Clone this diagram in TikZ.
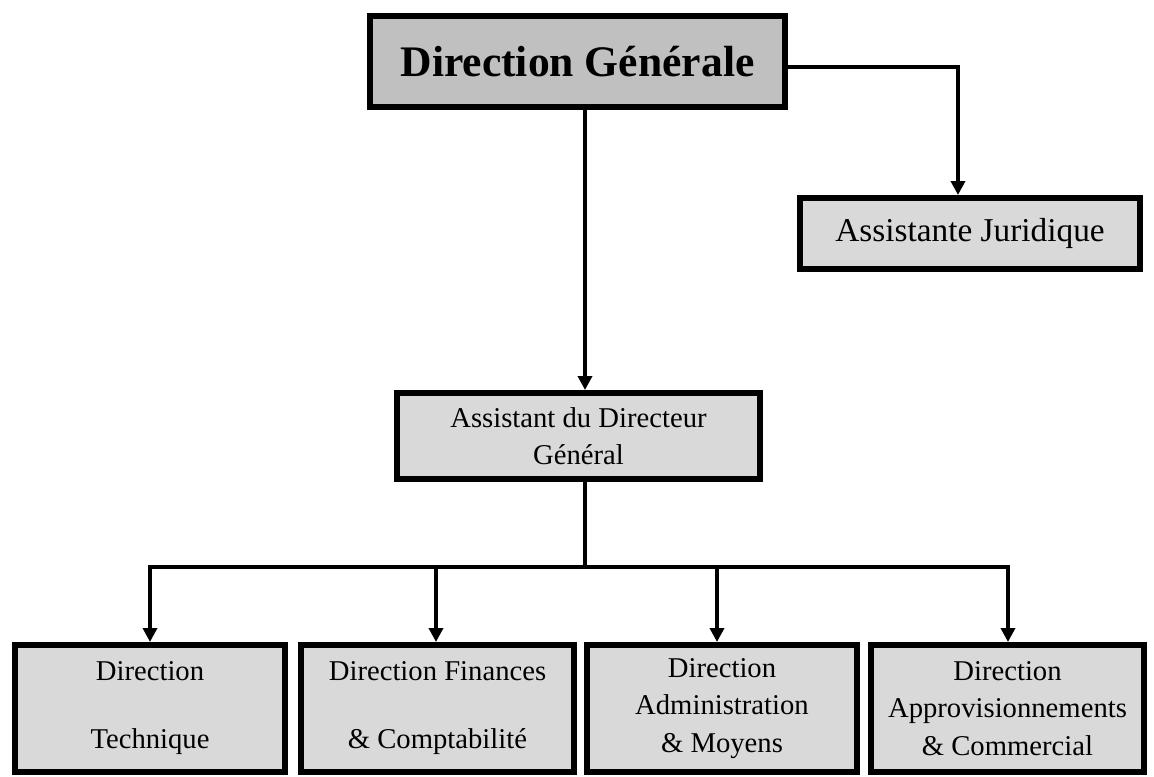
\documentclass[tikz,border=0pt]{standalone}
\usepackage{fontspec}
\setmainfont{Liberation Serif}
\usetikzlibrary{arrows.meta}

\definecolor{headfill}{HTML}{C0C0C0}
\definecolor{boxfill}{HTML}{D9D9D9}

\tikzset{
  unit/.style={draw=black, line width=4.5pt, inner sep=0pt, align=center},
  headbox/.style={unit, fill=headfill, minimum width=311.25pt, minimum height=68.25pt,
    font=\fontsize{32.7}{38}\selectfont\bfseries},
  midbox/.style={unit, fill=boxfill, font=\fontsize{21.5}{28}\selectfont},
  deptbox/.style={unit, fill=boxfill, minimum height=95.25pt,
    font=\fontsize{21.5}{28}\selectfont},
  link/.style={line width=2.8pt, line cap=rect},
  arrow/.style={link, -{Triangle[length=10.5pt, width=10.5pt]}},
}

\begin{document}
\begin{tikzpicture}[x=0.75pt, y=-0.75pt]
  \useasboundingbox (0,0) rectangle (1154,776);

  % top of the hierarchy
  \node[headbox] (dg) at (577.5,61.5) {Direction Générale};
  \node[midbox, minimum width=255pt, minimum height=53.25pt, font=\fontsize{25}{30}\selectfont]
    (aj) at (970,233.5) {Assistante Juridique};
  \node[midbox, minimum width=272.25pt, minimum height=64.5pt]
    (adg) at (578.5,436) {Assistant du Directeur\\Général};

  % directorates
  \node[deptbox, minimum width=202.5pt] (dt) at (150,708.5)
    {Direction\\[23pt]Technique};
  \node[deptbox, minimum width=204.75pt] (dfc) at (437.5,708.5)
    {Direction Finances\\[23pt]\& Comptabilité};
  \node[deptbox, minimum width=202.5pt] (dam) at (722,708.5)
    {Direction\\Administration\\\& Moyens};
  \node[deptbox, minimum width=204.75pt] (dac) at (1007.5,708.5)
    {Direction\\Approvisionnements\\\& Commercial};

  % connectors
  \coordinate (dgE) at (dg.east |- 0,67);
  \coordinate (dgS) at (dg.south -| 585,0);
  \coordinate (bus) at (585,567);
  \draw[arrow] (dgE) -| (aj.north -| 958,0);
  \draw[arrow] (dgS) -- (adg.north -| 585,0);
  \draw[link] (adg.south -| 585,0) -- (bus);
  \draw[link] (bus -| 150,0) -- (bus -| 1008,0);
  \draw[arrow] (bus -| 150,0) -- (dt.north -| 150,0);
  \draw[arrow] (bus -| 436,0) -- (dfc.north -| 436,0);
  \draw[arrow] (bus -| 717,0) -- (dam.north -| 717,0);
  \draw[arrow] (bus -| 1008,0) -- (dac.north -| 1008,0);
\end{tikzpicture}
\end{document}
